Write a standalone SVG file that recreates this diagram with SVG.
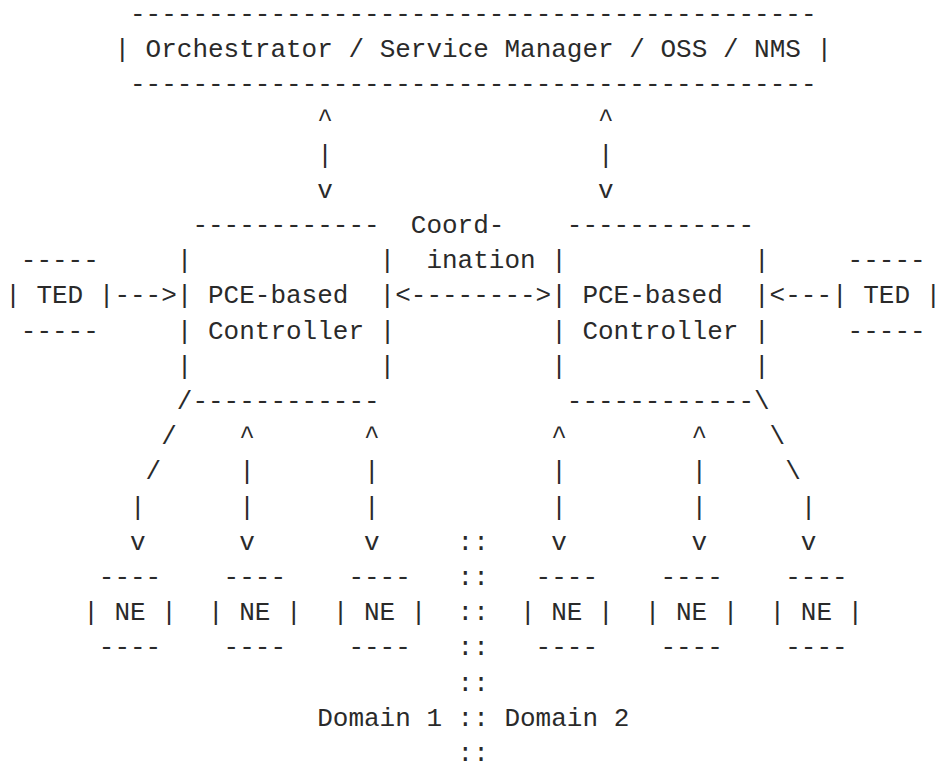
<svg xmlns="http://www.w3.org/2000/svg" width="940" height="771" viewBox="0 0 940 771" xml:space="preserve">
<style>
text{font-family:"Liberation Mono","DejaVu Sans Mono",monospace;font-size:26px;fill:#2a2a2a;white-space:pre}
</style>
<rect width="940" height="771" fill="#ffffff"/>
<g id="orchestrator">
<text x="130.0" y="21.8">--------------------------------------------</text>
<text x="114.4" y="57.0">| Orchestrator / Service Manager / OSS / NMS |</text>
<text x="130.0" y="92.2">--------------------------------------------</text>
</g>
<g id="ted-left">
<text x="20.8" y="268.2">-----</text>
<text x="5.2" y="303.4">| TED |</text>
<text x="20.8" y="338.6">-----</text>
</g>
<g id="ted-right">
<text x="847.6" y="268.2">-----</text>
<text x="832.0" y="303.4">| TED |</text>
<text x="847.6" y="338.6">-----</text>
</g>
<g id="pce-controller-1">
<text x="192.4" y="233.0">------------</text>
<text x="176.8" y="268.2">|</text><text x="379.6" y="268.2">|</text>
<text x="176.8" y="303.4">| PCE-based</text><text x="379.6" y="303.4">|</text>
<text x="176.8" y="338.6">| Controller |</text>
<text x="176.8" y="373.8">|</text><text x="379.6" y="373.8">|</text>
<text x="192.4" y="409.0">------------</text>
</g>
<g id="pce-controller-2">
<text x="566.8" y="233.0">------------</text>
<text x="551.2" y="268.2">|</text><text x="754.0" y="268.2">|</text>
<text x="551.2" y="303.4">| PCE-based</text><text x="754.0" y="303.4">|</text>
<text x="551.2" y="338.6">| Controller |</text>
<text x="551.2" y="373.8">|</text><text x="754.0" y="373.8">|</text>
<text x="566.8" y="409.0">------------</text>
</g>
<g id="ne-1">
<text x="98.8" y="585.0">----</text>
<text x="83.2" y="620.2">| NE |</text>
<text x="98.8" y="655.4">----</text>
</g>
<g id="ne-2">
<text x="223.6" y="585.0">----</text>
<text x="208.0" y="620.2">| NE |</text>
<text x="223.6" y="655.4">----</text>
</g>
<g id="ne-3">
<text x="348.4" y="585.0">----</text>
<text x="332.8" y="620.2">| NE |</text>
<text x="348.4" y="655.4">----</text>
</g>
<g id="ne-4">
<text x="535.6" y="585.0">----</text>
<text x="520.0" y="620.2">| NE |</text>
<text x="535.6" y="655.4">----</text>
</g>
<g id="ne-5">
<text x="660.4" y="585.0">----</text>
<text x="644.8" y="620.2">| NE |</text>
<text x="660.4" y="655.4">----</text>
</g>
<g id="ne-6">
<text x="785.2" y="585.0">----</text>
<text x="769.6" y="620.2">| NE |</text>
<text x="785.2" y="655.4">----</text>
</g>
<g id="connectors">
<text x="317.2" y="127.4">^</text><text x="317.2" y="162.6">|</text><text x="317.2" y="197.8">v</text>
<text x="598.0" y="127.4">^</text><text x="598.0" y="162.6">|</text><text x="598.0" y="197.8">v</text>
<text x="410.8" y="233.0">Coord-</text>
<text x="426.4" y="268.2">ination</text>
<text x="114.4" y="303.4">---&gt;</text>
<text x="395.2" y="303.4">&lt;--------&gt;</text>
<text x="769.6" y="303.4">&lt;---</text>
<text x="176.8" y="409.0">/</text>
<text x="161.2" y="444.2">/</text>
<text x="145.6" y="479.4">/</text>
<text x="130.0" y="514.6">|</text>
<text x="130.0" y="549.8">v</text>
<text x="239.2" y="444.2">^</text><text x="239.2" y="479.4">|</text><text x="239.2" y="514.6">|</text><text x="239.2" y="549.8">v</text>
<text x="364.0" y="444.2">^</text><text x="364.0" y="479.4">|</text><text x="364.0" y="514.6">|</text><text x="364.0" y="549.8">v</text>
<text x="551.2" y="444.2">^</text><text x="551.2" y="479.4">|</text><text x="551.2" y="514.6">|</text><text x="551.2" y="549.8">v</text>
<text x="691.6" y="444.2">^</text><text x="691.6" y="479.4">|</text><text x="691.6" y="514.6">|</text><text x="691.6" y="549.8">v</text>
<text x="754.0" y="409.0">\</text>
<text x="769.6" y="444.2">\</text>
<text x="785.2" y="479.4">\</text>
<text x="800.8" y="514.6">|</text>
<text x="800.8" y="549.8">v</text>
</g>
<g id="domain-boundary">
<text x="457.6" y="549.8">::</text>
<text x="457.6" y="585.0">::</text>
<text x="457.6" y="620.2">::</text>
<text x="457.6" y="655.4">::</text>
<text x="457.6" y="690.6">::</text>
<text x="317.2" y="725.8">Domain 1 :: Domain 2</text>
<text x="457.6" y="761.0">::</text>
</g>
</svg>
